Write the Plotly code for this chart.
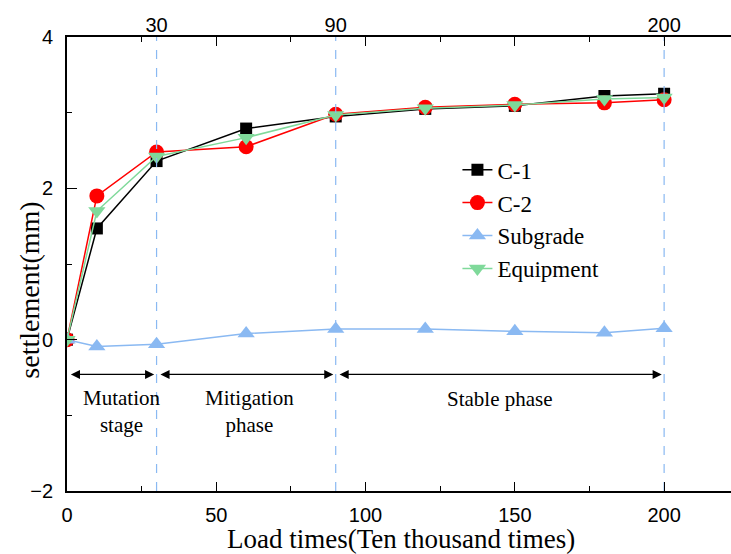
import plotly.graph_objects as go

# ---- data ----
load_times = [0, 10, 30, 60, 90, 120, 150, 180, 200]
c1 = [0.00, 1.47, 2.36, 2.79, 2.95, 3.05, 3.09, 3.22, 3.25]
c2 = [0.00, 1.90, 2.48, 2.55, 2.98, 3.07, 3.11, 3.13, 3.17]
subgrade = [0.00, -0.09, -0.06, 0.08, 0.14, 0.14, 0.11, 0.09, 0.15]
equipment = [0.00, 1.70, 2.42, 2.67, 2.97, 3.06, 3.10, 3.18, 3.20]

phase_bounds = [30, 90, 200]
phase_bound_labels = ["30", "90", "200"]
phase_start = [0, 30, 90]
phase_end = [30, 90, 200]
phase_names = ["Mutation<br>stage", "Mitigation<br>phase", "Stable phase"]
phase_label_y = [-0.95, -0.95, -0.78]
arrow_y = -0.46

x_ticks = [0, 50, 100, 150, 200]
y_ticks = [-2, 0, 2, 4]

BLUE = "#8ab9f2"
GREEN = "#7fd99a"
SERIF = "Liberation Serif, Times New Roman, serif"
SANS = "Liberation Sans, Arial, sans-serif"

fig = go.Figure()

# dashed phase boundary lines (on top axis)
vx, vy = [], []
for b in phase_bounds:
    vx += [b, b, None]
    vy += [-2, 4, None]
fig.add_trace(go.Scatter(x=vx, y=vy, xaxis="x2", mode="lines",
                         line=dict(color=BLUE, width=1.2, dash="dash"),
                         showlegend=False, hoverinfo="skip"))

series = [
    ("C-1", c1, "black", "square", 12),
    ("C-2", c2, "#ff0000", "circle", 15),
    ("Subgrade", subgrade, BLUE, "triangle-up", 15),
    ("Equipment", equipment, GREEN, "triangle-down", 15),
]
for name, ys, col, sym, sz in series:
    fig.add_trace(go.Scatter(x=load_times, y=ys, name=name, mode="lines+markers",
                             line=dict(color=col, width=1.5),
                             marker=dict(symbol=sym, size=sz, color=col)))

annotations = []
for s, e in zip(phase_start, phase_end):
    annotations.append(dict(x=e - 0.8, y=arrow_y, ax=s + 0.8, ay=arrow_y,
                            xref="x", yref="y", axref="x", ayref="y",
                            text="", showarrow=True, arrowhead=2, startarrowhead=2,
                            arrowside="end+start", arrowsize=1.4, startarrowsize=1.4,
                            arrowwidth=1.3, arrowcolor="black"))
shifts = [10, 3, 0]
for s, e, t, ly, sh in zip(phase_start, phase_end, phase_names, phase_label_y, shifts):
    annotations.append(dict(x=(s + e) / 2, y=ly, xref="x", yref="y", text=t,
                            showarrow=False, xshift=sh,
                            font=dict(family=SERIF, size=21, color="black")))
annotations.append(dict(x=-0.056, y=0.443, xref="paper", yref="paper",
                        text="settlement(mm)", textangle=-90, showarrow=False,
                        xanchor="center", yanchor="middle",
                        font=dict(family=SERIF, size=28, color="black")))
annotations.append(dict(x=0.503, y=0, xref="paper", yref="paper",
                        text="Load times(Ten thousand times)", showarrow=False,
                        xanchor="center", yanchor="middle", yshift=-48,
                        font=dict(family=SERIF, size=27, color="black")))

fig.update_layout(
    width=731, height=554,
    margin=dict(l=67, r=0, t=37, b=63),
    plot_bgcolor="white", paper_bgcolor="white",
    showlegend=True,
    legend=dict(x=0.588, y=0.755, xanchor="left", yanchor="top",
                font=dict(family=SERIF, size=23, color="black"),
                bgcolor="rgba(0,0,0,0)", tracegroupgap=0),
    xaxis=dict(range=[0, 222.4], tickvals=x_ticks, ticks="inside", ticklen=9,
               tickwidth=1.3, tickcolor="black",
               minor=dict(dtick=25, ticks="inside", ticklen=5, tickwidth=1.3, tickcolor="black"),
               showline=True, linecolor="black", linewidth=1.8, mirror="ticks",
               showgrid=False, zeroline=False,
               tickfont=dict(family=SANS, size=20, color="black"), ticklabelstandoff=5),
    xaxis2=dict(range=[0, 222.4], overlaying="x", side="top", tickvals=phase_bounds,
                ticktext=phase_bound_labels, ticks="", showline=False, showgrid=False,
                zeroline=False, tickfont=dict(family=SANS, size=20, color="black")),
    yaxis=dict(range=[-2, 4], tickvals=y_ticks, ticks="inside", ticklen=10,
               tickwidth=1.3, tickcolor="black",
               minor=dict(dtick=1, ticks="inside", ticklen=5, tickwidth=1.3, tickcolor="black"),
               showline=True, linecolor="black", linewidth=1.8,
               showgrid=False, zeroline=False,
               tickfont=dict(family=SANS, size=20, color="black"), ticklabelstandoff=8),
    annotations=annotations,
)

fig.write_html("out.html")
